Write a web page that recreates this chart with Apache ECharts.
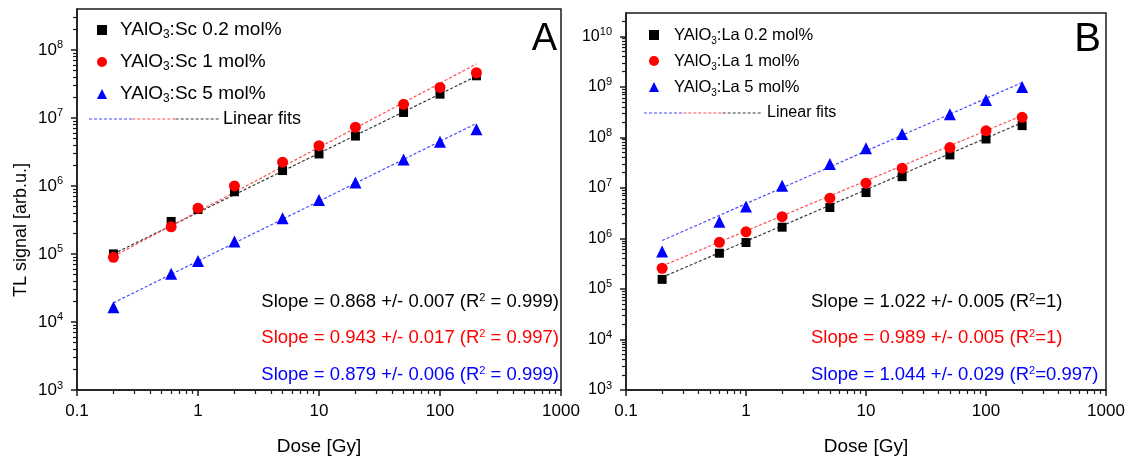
<!DOCTYPE html>
<html>
<head>
<meta charset="utf-8">
<script src="https://cdn.jsdelivr.net/npm/echarts@6/dist/echarts.min.js"></script>
<style>
html,body{margin:0;padding:0;background:#fff;}
#chart{width:1128px;height:459px;}
</style>
</head>
<body>
<div id="chart"></div>
<script>
// ---------------- DATA ----------------
const dose = [0.2, 0.6, 1, 2, 5, 10, 20, 50, 100, 200];

// Panel A : YAlO3:Sc
const scNames = ['YAlO3:Sc 0.2 mol%', 'YAlO3:Sc 1 mol%', 'YAlO3:Sc 5 mol%'];
const sc02 = [1.0e5, 3.0e5, 4.5e5, 8.2e5, 1.68e6, 2.95e6, 5.4e6, 1.2e7, 2.23e7, 4.15e7];
const sc1  = [8.9e4, 2.5e5, 4.7e5, 1.0e6, 2.23e6, 3.9e6, 7.3e6, 1.58e7, 2.8e7, 4.6e7];
const sc5  = [1.64e4, 5.1e4, 7.9e4, 1.52e5, 3.35e5, 6.2e5, 1.12e6, 2.45e6, 4.45e6, 6.8e6];
// linear-fit end points at dose 0.2 and 200
const fitDose = [0.2, 200];
const scFit02 = [1.0e5, 4.1e7];
const scFit1  = [9.2e4, 6.2e7];
const scFit5  = [1.91e4, 8.3e6];
const scSlopes = ['0.868 +/- 0.007', '0.943 +/- 0.017', '0.879 +/- 0.006'];
const scR2 = [' = 0.999', ' = 0.997', ' = 0.999'];

// Panel B : YAlO3:La
const laNames = ['YAlO3:La 0.2 mol%', 'YAlO3:La 1 mol%', 'YAlO3:La 5 mol%'];
const la02 = [1.55e5, 5.1e5, 8.3e5, 1.67e6, 4.1e6, 8.1e6, 1.67e7, 4.5e7, 9.3e7, 1.71e8];
const la1  = [2.57e5, 8.4e5, 1.35e6, 2.7e6, 6.25e6, 1.24e7, 2.46e7, 6.3e7, 1.35e8, 2.5e8];
const la5  = [5.5e5, 2.15e6, 4.27e6, 1.1e7, 2.98e7, 6.1e7, 1.17e8, 2.88e8, 5.5e8, 9.9e8];
const laFit02 = [1.7e5, 1.96e8];
const laFit1  = [2.85e5, 2.7e8];
const laFit5  = [9.1e5, 1.22e9];
const laSlopes = ['1.022 +/- 0.005', '0.989 +/- 0.005', '1.044 +/- 0.029'];
const laR2 = ['=1', '=1', '=0.997'];

// axis ticks
const xMajor = [0.1, 1, 10, 100, 1000];
const yMajorA = [1e3, 1e4, 1e5, 1e6, 1e7, 1e8];
const yMajorB = [1e3, 1e4, 1e5, 1e6, 1e7, 1e8, 1e9, 1e10];
const yMaxA = 3.98e8;
const yMaxB = 2.9e10;

// ---------------- HELPERS ----------------
function minorTicks(lo, hi) {
  const out = [];
  for (let e = Math.floor(Math.log10(lo)); e <= Math.ceil(Math.log10(hi)); e++) {
    for (let m = 2; m <= 9; m++) {
      const v = m * Math.pow(10, e);
      if (v > lo && v < hi) out.push(v);
    }
  }
  return out;
}
const pairs = (xs, ys) => xs.map((x, i) => [x, ys[i]]);

const FONT = '"Liberation Sans", Arial, sans-serif';
const AX = '#1a1a1a';
const colors = ['#000000', '#ff0000', '#0000ff'];
const fitColors = ['#3a3a3a', '#ff5050', '#4b4bff'];
const symbols = ['rect', 'circle', 'triangle'];
const symSizes = [9, 11, 12];

function xAxes(grid) {
  return [
    {
      type: 'log', logBase: 10, gridIndex: grid, min: 0.1, max: 1000, position: 'bottom',
      name: 'Dose [Gy]', nameLocation: 'middle', nameGap: 47,
      nameTextStyle: { fontFamily: FONT, fontSize: 19, color: '#000' },
      axisLine: { show: true, lineStyle: { color: AX, width: 1.5 } },
      axisTick: { show: true, inside: false, length: 6, customValues: xMajor, lineStyle: { color: AX, width: 1.5 } },
      axisLabel: {
        show: true, margin: 13, customValues: xMajor, fontFamily: FONT, fontSize: 17, color: '#000',
        formatter: v => String(Number(Number(v).toPrecision(3)))
      },
      splitLine: { show: false }, minorTick: { show: false }
    },
    {
      type: 'log', logBase: 10, gridIndex: grid, min: 0.1, max: 1000, position: 'bottom',
      axisLine: { show: false },
      axisTick: { show: true, inside: false, length: 4, customValues: minorTicks(0.1, 1000), lineStyle: { color: AX, width: 1.2 } },
      axisLabel: { show: false }, splitLine: { show: false }
    }
  ];
}
function yAxes(grid, max, majors, fs) {
  return [
    {
      type: 'log', logBase: 10, gridIndex: grid, min: 1e3, max: max, position: 'left',
      axisLine: { show: true, lineStyle: { color: AX, width: 1.5 } },
      axisTick: { show: true, inside: false, length: 6, customValues: majors, lineStyle: { color: AX, width: 1.5 } },
      axisLabel: {
        show: true, margin: 14, customValues: majors,
        formatter: v => '{b|10}{s|' + Math.round(Math.log10(v)) + '}',
        rich: {
          b: { fontFamily: FONT, fontSize: fs, color: '#000', lineHeight: 20 },
          s: { fontFamily: FONT, fontSize: 11, color: '#000', verticalAlign: 'top', lineHeight: 12 }
        }
      },
      splitLine: { show: false }, minorTick: { show: false }
    },
    {
      type: 'log', logBase: 10, gridIndex: grid, min: 1e3, max: max, position: 'left',
      axisLine: { show: false },
      axisTick: { show: true, inside: false, length: 4, customValues: minorTicks(1e3, max), lineStyle: { color: AX, width: 1.2 } },
      axisLabel: { show: false }, splitLine: { show: false }
    }
  ];
}

function panelSeries(names, vals, fits, xIdx, yIdx) {
  const s = [];
  fits.forEach((f, i) => {
    s.push({
      type: 'line', name: 'fit-' + names[i], xAxisIndex: xIdx, yAxisIndex: yIdx,
      data: pairs(fitDose, f), symbol: 'none', silent: true, z: 2,
      lineStyle: { color: fitColors[i], width: 1.2, type: [3, 2] }
    });
  });
  vals.forEach((v, i) => {
    s.push({
      type: 'scatter', name: names[i], xAxisIndex: xIdx, yAxisIndex: yIdx,
      data: pairs(dose, v), symbol: symbols[i], symbolSize: symSizes[i], z: 5,
      itemStyle: { color: colors[i], opacity: 1 }
    });
  });
  return s;
}

const legendFmt = (name) => '{gap|}' + name.replace('YAlO3', 'YAlO{sub|3}');

function fitLegend(x0, x1, y, tx, fs) {
  const seg = (x1 - x0) / 3;
  const g = [];
  [2, 1, 0].forEach((ci, k) => {
    g.push({
      type: 'line', silent: true,
      shape: { x1: x0 + k * seg, y1: y, x2: x0 + (k + 1) * seg, y2: y },
      style: { stroke: fitColors[ci], lineWidth: 1.2, lineDash: [3, 2] }
    });
  });
  g.push({
    type: 'text', x: tx, y: y, silent: true,
    style: { text: 'Linear fits', fill: '#000', fontFamily: FONT, fontSize: fs, align: 'left', verticalAlign: 'middle' }
  });
  return g;
}

function slopeTexts(slopes, r2, x, align, ys, fs) {
  return slopes.map((sl, i) => ({
    type: 'text', x: x, y: ys[i], silent: true,
    style: {
      text: 'Slope = ' + sl + ' (R{sup|2}' + r2[i] + ')',
      fill: colors[i], fontFamily: FONT, fontSize: fs, align: align, verticalAlign: 'middle',
      rich: { sup: { fontFamily: FONT, fontSize: 11, fill: colors[i], verticalAlign: 'top', lineHeight: 12 } }
    }
  }));
}

const legendRich = (fs, gap) => ({
  fontFamily: FONT, fontSize: fs, color: '#000', lineHeight: 22,
  rich: {
    sub: { fontFamily: FONT, fontSize: Math.round(fs * 0.62), color: '#000', verticalAlign: 'bottom', lineHeight: 14 },
    gap: { width: gap, fontSize: fs, lineHeight: 22 }
  }
});

const option = {
  backgroundColor: '#ffffff',
  animation: false,
  grid: [
    { left: 77, top: 9, width: 484, height: 381, show: true, borderColor: AX, borderWidth: 1.5, backgroundColor: 'transparent', outerBoundsMode: 'none' },
    { left: 626, top: 13, width: 480, height: 377, show: true, borderColor: AX, borderWidth: 1.5, backgroundColor: 'transparent', outerBoundsMode: 'none' }
  ],
  xAxis: [...xAxes(0), ...xAxes(1)],
  yAxis: [...yAxes(0, yMaxA, yMajorA, 17), ...yAxes(1, yMaxB, yMajorB, 16)],
  legend: [
    {
      data: scNames, orient: 'vertical', left: 92, top: 14, itemGap: 10,
      itemWidth: 10, itemHeight: 10, symbolKeepAspect: true,
      formatter: legendFmt, textStyle: legendRich(19, 8), selectedMode: false
    },
    {
      data: laNames, orient: 'vertical', left: 644, top: 19, itemGap: 4,
      itemWidth: 10, itemHeight: 10, symbolKeepAspect: true,
      formatter: legendFmt, textStyle: legendRich(16.5, 10), selectedMode: false
    }
  ],
  graphic: [
    {
      type: 'text', x: 21, y: 230, rotation: Math.PI / 2, silent: true,
      style: { text: 'TL signal [arb.u.]', fill: '#000', fontFamily: FONT, fontSize: 18, align: 'center', verticalAlign: 'middle' }
    },
    {
      type: 'text', x: 557, y: 40, silent: true,
      style: { text: 'A', fill: '#000', fontFamily: FONT, fontSize: 38, align: 'right', verticalAlign: 'middle' }
    },
    {
      type: 'text', x: 1101, y: 40, silent: true,
      style: { text: 'B', fill: '#000', fontFamily: FONT, fontSize: 40, align: 'right', verticalAlign: 'middle' }
    },
    ...fitLegend(89, 219, 119, 223, 18),
    ...fitLegend(644, 762, 113, 767, 16),
    ...slopeTexts(scSlopes, scR2, 559, 'right', [302, 338, 375], 18.5),
    ...slopeTexts(laSlopes, laR2, 811, 'left', [302, 338, 375], 18.5)
  ],
  series: [
    ...panelSeries(scNames, [sc02, sc1, sc5], [scFit02, scFit1, scFit5], 0, 0),
    ...panelSeries(laNames, [la02, la1, la5], [laFit02, laFit1, laFit5], 2, 2)
  ]
};

const chart = echarts.init(document.getElementById('chart'), null, { renderer: 'canvas' });
chart.setOption(option);
</script>
</body>
</html>
